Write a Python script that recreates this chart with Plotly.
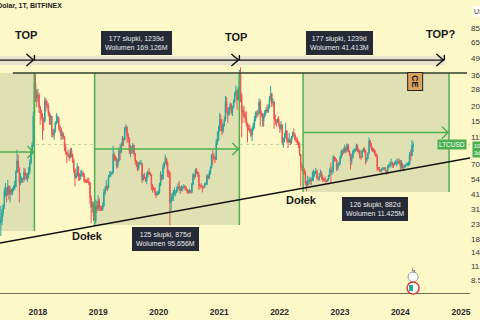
import numpy as np
import pandas as pd
import plotly.graph_objects as go

# ---------------- data (weekly LTCUSD candles) ----------------
start_week = "2017-05-01"
first_open = 15.0
close_2017 = [25, 26, 24, 25, 29, 33, 43, 43, 40, 47, 41, 44, 42, 45, 46, 47, 61, 75, 66, 50, 52, 54, 53, 61, 57, 55, 58, 62, 72, 88, 100, 170, 310, 265, 235]
high_2017 = [27, 32, 27, 33, 31, 34, 46, 50, 46, 53, 48, 47, 45, 46, 48, 52, 63, 92, 84, 66, 60, 56, 55, 66, 65, 60, 60, 67, 77, 93, 105, 185, 375, 365, 275]
low_2017 = [15, 22, 22, 19, 23, 27, 31, 39, 35, 40, 37, 35, 40, 40, 43, 44, 46, 60, 60, 35, 48, 50, 50, 51, 53, 53, 51, 54, 59, 70, 83, 96, 165, 220, 200]
close_2018 = [250, 200, 180, 170, 155, 155, 225, 210, 205, 180, 165, 170, 125, 120, 130, 150, 155, 165, 140, 135, 118, 122, 116, 96, 88, 85, 84, 80, 91, 84, 75, 64, 55, 57, 67, 58, 57, 58, 60, 57, 52, 52, 52, 51, 50, 38, 32, 34, 27, 25, 33, 31, 36]
high_2018 = [280, 260, 205, 190, 180, 165, 240, 235, 225, 215, 185, 175, 170, 135, 135, 155, 180, 172, 168, 145, 138, 130, 126, 118, 103, 88, 92, 86, 95, 95, 86, 78, 65, 61, 72, 68, 60, 63, 64, 62, 60, 54, 53, 55, 55, 51, 40, 36, 35, 28, 37, 36, 40]
low_2018 = [220, 180, 145, 160, 110, 130, 150, 185, 195, 170, 145, 145, 115, 115, 110, 125, 145, 150, 130, 125, 110, 110, 112, 90, 84, 72, 80, 75, 78, 80, 72, 60, 47, 54, 56, 52, 52, 53, 56, 56, 50, 50, 50, 50, 48, 34, 24, 29, 25, 23, 24, 29, 30]
close_2019 = [32, 31, 31, 33, 42, 44, 47, 46, 56, 58, 59, 60, 84, 78, 77, 68, 75, 90, 88, 100, 112, 110, 135, 138, 118, 112, 90, 95, 90, 100, 85, 75, 72, 65, 71, 72, 72, 53, 57, 55, 52, 58, 61, 60, 58, 48, 46, 45, 42, 40, 41, 42]
high_2019 = [38, 33, 33, 35, 45, 47, 53, 48, 58, 62, 62, 62, 99, 87, 82, 80, 78, 96, 102, 105, 118, 115, 140, 146, 142, 125, 115, 100, 98, 104, 100, 86, 76, 74, 73, 75, 76, 72, 59, 60, 56, 61, 63, 66, 61, 59, 49, 46, 46, 43, 43, 44]
low_2019 = [30, 30, 30, 30, 32, 40, 44, 43, 45, 55, 56, 58, 60, 74, 75, 65, 66, 73, 76, 86, 98, 98, 108, 125, 104, 105, 85, 80, 85, 86, 82, 70, 67, 62, 63, 69, 70, 50, 52, 54, 51, 49, 55, 58, 57, 44, 42, 44, 40, 38, 40, 40]
close_2020 = [48, 58, 54, 66, 72, 78, 73, 60, 60, 35, 38, 39, 42, 42, 42, 45, 47, 46, 44, 46, 46, 47, 46, 44, 42, 42, 43, 42, 49, 58, 56, 63, 61, 58, 48, 47, 47, 46, 46, 49, 49, 57, 55, 60, 66, 83, 80, 80, 77, 105, 110, 130]
high_2020 = [50, 62, 59, 70, 74, 84, 80, 75, 64, 62, 41, 42, 44, 46, 44, 47, 50, 52, 47, 48, 47, 49, 48, 47, 45, 44, 45, 44, 50, 60, 59, 65, 66, 62, 61, 49, 50, 48, 47, 50, 51, 59, 58, 63, 68, 85, 91, 86, 82, 112, 128, 142]
low_2020 = [41, 47, 52, 53, 65, 70, 68, 56, 55, 23, 30, 36, 36, 40, 39, 42, 44, 43, 41, 43, 43, 45, 44, 43, 41, 41, 42, 41, 42, 48, 53, 55, 59, 56, 44, 45, 46, 42, 45, 46, 48, 48, 53, 54, 58, 65, 70, 75, 72, 76, 100, 108]
close_2021 = [160, 145, 130, 145, 160, 220, 185, 175, 195, 210, 180, 200, 220, 255, 270, 230, 280, 360, 250, 190, 180, 170, 165, 150, 135, 135, 130, 120, 135, 145, 160, 180, 175, 180, 220, 180, 170, 155, 170, 185, 190, 185, 200, 235, 255, 215, 220, 160, 155, 155, 160, 145]
high_2021 = [180, 175, 160, 150, 168, 245, 240, 200, 200, 218, 215, 205, 230, 265, 298, 275, 290, 395, 413, 260, 205, 205, 185, 185, 150, 145, 145, 135, 140, 150, 170, 185, 188, 190, 235, 230, 188, 180, 178, 190, 200, 210, 210, 245, 295, 260, 235, 225, 175, 160, 165, 170]
low_2021 = [128, 128, 120, 125, 140, 155, 180, 150, 170, 190, 175, 170, 195, 215, 245, 190, 225, 270, 220, 115, 150, 165, 150, 140, 105, 130, 125, 115, 108, 130, 135, 155, 165, 168, 175, 140, 168, 140, 140, 165, 175, 180, 180, 195, 225, 200, 205, 135, 145, 140, 150, 140]
close_2022 = [135, 145, 105, 110, 115, 130, 110, 105, 110, 105, 115, 125, 120, 110, 110, 105, 100, 85, 68, 67, 62, 60, 50, 48, 52, 52, 53, 52, 56, 60, 60, 62, 55, 54, 57, 60, 55, 54, 53, 52, 52, 53, 57, 63, 61, 63, 80, 77, 76, 65, 69, 72]
high_2022 = [150, 155, 145, 115, 125, 150, 130, 115, 125, 112, 118, 128, 135, 125, 115, 115, 108, 105, 85, 72, 70, 66, 63, 52, 57, 54, 56, 55, 62, 64, 62, 66, 64, 56, 60, 64, 62, 58, 55, 56, 53, 54, 58, 66, 73, 68, 83, 82, 80, 78, 72, 74]
low_2022 = [125, 130, 100, 95, 105, 115, 105, 95, 105, 100, 102, 112, 117, 108, 104, 100, 95, 82, 47, 62, 58, 58, 48, 43, 47, 48, 49, 48, 52, 52, 56, 59, 53, 52, 52, 56, 53, 51, 51, 51, 49, 51, 52, 56, 50, 58, 60, 74, 74, 62, 63, 68]
close_2023 = [80, 90, 88, 89, 95, 90, 100, 90, 85, 75, 80, 88, 90, 92, 100, 90, 90, 80, 80, 90, 92, 90, 76, 78, 86, 108, 100, 93, 93, 90, 85, 82, 65, 65, 63, 63, 64, 65, 65, 63, 60, 67, 68, 70, 72, 70, 70, 72, 72, 72, 74, 72]
high_2023 = [83, 92, 92, 95, 101, 97, 103, 102, 92, 86, 84, 92, 94, 95, 103, 101, 94, 92, 82, 92, 95, 96, 92, 80, 88, 115, 110, 104, 96, 95, 92, 86, 84, 67, 67, 64, 66, 67, 67, 67, 63, 69, 71, 74, 78, 74, 72, 74, 76, 78, 78, 78]
low_2023 = [70, 78, 82, 85, 86, 86, 88, 88, 82, 64, 70, 78, 85, 88, 90, 88, 86, 78, 76, 80, 88, 86, 70, 73, 77, 86, 96, 90, 88, 87, 82, 80, 62, 63, 61, 61, 60, 63, 63, 62, 58, 59, 65, 66, 68, 66, 66, 69, 70, 68, 71, 70]
close_2024 = [68, 70, 66, 67, 69, 70, 70, 70, 84, 82, 98, 101]
high_2024 = [76, 76, 72, 69, 70, 72, 73, 74, 88, 92, 110, 106]
low_2024 = [62, 65, 64, 62, 66, 68, 68, 68, 69, 75, 82, 88]

# price-axis labels (log scale)
ytick_vals = [850, 650, 490, 360, 280, 205, 155, 115, 70, 54, 41, 31, 23.5, 18, 14, 11, 8.5]
# time-axis labels
xtick_vals = ["2018-01-01", "2019-01-01", "2020-01-01", "2021-01-01", "2022-01-01", "2023-01-01", "2024-01-01", "2025-01-01"]

# drawings: date ranges (shaded boxes)
box_start = ["2016-12-01", "2018-12-10", "2022-05-23"]
box_end = ["2017-12-11", "2021-05-03", "2024-10-21"]
box_low = [20.8, 23.2, 42.4]
box_high = [373, 373, 373]
# drawings: top date-range arrows
arrow_start = ["2016-06-01", "2017-12-11", "2021-05-03"]
arrow_end = ["2017-12-11", "2021-05-03", "2024-09-23"]
arrow_price = 473
band_low, band_high = 432, 510
# resistance line and rising support line
resist_dates = ["2017-08-03", "2025-02-07"]
resist_price = 373
trend_dates = ["2017-05-17", "2025-02-25"]
trend_prices = [16.7, 79.0]
# text labels
label_text = ["TOP", "TOP", "TOP?", "Dołek", "Dołek"]
label_date = ["2017-10-20", "2021-04-12", "2024-08-28", "2018-10-30", "2022-05-16"]
label_price = [746, 720, 762, 19.0, 36.7]
tip_text = ["177 słupki, 1239d<br>Wolumen 169.126M", "177 słupki, 1239d<br>Wolumen 41.413M",
            "125 słupki, 875d<br>Wolumen 95.656M", "126 słupki, 882d<br>Wolumen 11.425M"]
tip_date = ["2019-08-22", "2023-01-01", "2020-02-14", "2023-07-31"]
tip_price = [645, 645, 18.0, 31.1]

# ---------------- build candles ----------------
close = close_2017 + close_2018 + close_2019 + close_2020 + close_2021 + close_2022 + close_2023 + close_2024
high = high_2017 + high_2018 + high_2019 + high_2020 + high_2021 + high_2022 + high_2023 + high_2024
low = low_2017 + low_2018 + low_2019 + low_2020 + low_2021 + low_2022 + low_2023 + low_2024
dates = pd.date_range(start_week, periods=len(close), freq="7D")
opens = [first_open] + close[:-1]
high = [max(h, o, c) for h, o, c in zip(high, opens, close)]
low = [min(l, o, c) for l, o, c in zip(low, opens, close)]

BG = "#fcf8c8"
BOX = "#e0e1b3"
GREEN = "#4caf50"
FONT = "Liberation Sans"

fig = go.Figure()
fig.add_trace(go.Candlestick(
    x=dates, open=opens, high=high, low=low, close=close,
    increasing=dict(line=dict(color="#26a69a", width=1), fillcolor="#26a69a"),
    decreasing=dict(line=dict(color="#ef5350", width=1), fillcolor="#ef5350"),
    whiskerwidth=0, hoverinfo="skip"))

shapes = []
for s, e, lo, hi in zip(box_start, box_end, box_low, box_high):
    shapes.append(dict(type="rect", xref="x", yref="y", x0=s, x1=e, y0=lo, y1=hi,
                       fillcolor=BOX, line=dict(width=0), layer="below"))
for s, e in zip(arrow_start, arrow_end):
    shapes.append(dict(type="rect", xref="x", yref="y", x0=s, x1=e, y0=band_low, y1=band_high,
                       fillcolor="#e6e4cf", line=dict(width=0), layer="below"))
shapes.append(dict(type="line", xref="paper", yref="y", x0=0, x1=1, y0=close[-1], y1=close[-1],
                   line=dict(color="rgba(90,150,90,0.35)", width=1, dash="dot"), layer="below"))
for s, e, lo, hi in zip(box_start, box_end, box_low, box_high):
    mid = float(np.sqrt(lo * hi))
    for d in (s, e):
        shapes.append(dict(type="line", xref="x", yref="y", x0=d, x1=d, y0=lo, y1=hi,
                           line=dict(color=GREEN, width=1.5)))
    shapes.append(dict(type="line", xref="x", yref="y", x0=s, x1=e, y0=mid, y1=mid,
                       line=dict(color=GREEN, width=1.5)))
    shapes.append(dict(type="path", xref="x", yref="y", xsizemode="pixel", ysizemode="pixel",
                       xanchor=e, yanchor=mid, path="M-7,6 L-1,0 L-7,-6",
                       line=dict(color=GREEN, width=1.5)))
shapes.append(dict(type="line", xref="x", yref="y", x0=resist_dates[0], x1=resist_dates[1],
                   y0=resist_price, y1=resist_price, line=dict(color="#2f3f2c", width=1.5)))
shapes.append(dict(type="line", xref="x", yref="y", x0=arrow_start[0], x1=arrow_end[-1],
                   y0=arrow_price, y1=arrow_price, line=dict(color="#111", width=1.2)))
for e in arrow_end:
    shapes.append(dict(type="path", xref="x", yref="y", xsizemode="pixel", ysizemode="pixel",
                       xanchor=e, yanchor=arrow_price, path="M-8,6 L-1,0 L-8,-6",
                       line=dict(color="#111", width=1.4)))
    shapes.append(dict(type="line", xref="x", yref="y", xsizemode="pixel", ysizemode="pixel",
                       xanchor=e, yanchor=arrow_price, x0=0, x1=0, y0=-5, y1=5,
                       line=dict(color="#111", width=1.4)))
shapes.append(dict(type="line", xref="x", yref="y", x0=trend_dates[0], x1=trend_dates[1],
                   y0=trend_prices[0], y1=trend_prices[1], line=dict(color="#111", width=1.5)))
shapes.append(dict(type="circle", xref="x", yref="paper", xsizemode="pixel", ysizemode="pixel",
                   xanchor=dates[-1], yanchor=0.055, x0=-5, x1=5, y0=-5, y1=5,
                   fillcolor="white", line=dict(color="#9a9a9a", width=1)))
shapes.append(dict(type="circle", xref="x", yref="paper", xsizemode="pixel", ysizemode="pixel",
                   xanchor=dates[-1], yanchor=0.017, x0=-6, x1=6, y0=-6, y1=6,
                   fillcolor="white", line=dict(color="#e53935", width=1.5)))
shapes.append(dict(type="rect", xref="x", yref="paper", xsizemode="pixel", ysizemode="pixel",
                   xanchor=dates[-1], yanchor=0.017, x0=-4, x1=0, y0=-3, y1=3,
                   fillcolor="#26a69a", line=dict(width=0)))

annotations = []
for t, d, p in zip(label_text, label_date, label_price):
    annotations.append(dict(x=d, y=np.log10(p), xref="x", yref="y", text=f"<b>{t}</b>", showarrow=False,
                            font=dict(family=FONT, size=11, color="#1a1a1a")))
for t, d, p in zip(tip_text, tip_date, tip_price):
    annotations.append(dict(x=d, y=np.log10(p), xref="x", yref="y", text=t, showarrow=False,
                            font=dict(family=FONT, size=7, color="#e9e9ec"), bgcolor="#262a36",
                            bordercolor="#262a36", borderpad=3, align="center"))
annotations.append(dict(x=0.136, y=0.978, xref="paper", yref="paper", xanchor="right", yanchor="middle",
                        text="<b>Litecoin / U.S. Dolar, 1T, BITFINEX</b>", showarrow=False,
                        font=dict(family=FONT, size=7, color="#222")))
annotations.append(dict(x="2024-03-30", y=np.log10(322), xref="x", yref="y", text="<b>CE</b>", textangle=90,
                        showarrow=False, font=dict(family=FONT, size=9, color="#222"),
                        bgcolor="#d9a35e", bordercolor="#222", borderwidth=1, borderpad=2))
annotations.append(dict(x="2025-02-07", y=np.log10(close[-1]), xref="x", yref="y", xanchor="right",
                        text="LTCUSD", showarrow=False, font=dict(family=FONT, size=6.5, color="white"),
                        bgcolor=GREEN, borderpad=1))
annotations.append(dict(x=1.004, y=np.log10(close[-1]), xref="paper", yref="y", xanchor="left", yanchor="top",
                        yshift=4, text="101.00<br>3d 12h", showarrow=False,
                        font=dict(family=FONT, size=5.5, color="white"),
                        bgcolor=GREEN, borderpad=1, align="left"))
annotations.append(dict(x=1.004, y=0.98, xref="paper", yref="paper", xanchor="left",
                        text="USD", showarrow=False, font=dict(family=FONT, size=7, color="#333"),
                        bgcolor="white", borderpad=1))
annotations.append(dict(x=dates[-1], y=0.055, xref="x", yref="paper", text="ϟ", showarrow=False,
                        font=dict(family="DejaVu Sans", size=7, color="#555")))

fig.update_layout(
    width=480, height=320, margin=dict(l=0, r=10, t=0, b=27, autoexpand=False),
    paper_bgcolor=BG, plot_bgcolor=BG, showlegend=False,
    shapes=shapes, annotations=annotations,
    xaxis=dict(range=["2017-05-17", "2025-02-25"], rangeslider=dict(visible=False), showgrid=False,
               zeroline=False, tickvals=xtick_vals, tickformat="%Y", ticks="outside", ticklen=11,
               tickcolor="rgba(0,0,0,0)", showline=True, linecolor="#6f6f55", linewidth=1, automargin=False,
               tickfont=dict(family=FONT, size=8.5, color="#2b2b2b", weight="bold")),
    yaxis=dict(type="log", range=[np.log10(6.69), np.log10(1418)], side="right", showgrid=False,
               zeroline=False, tickvals=ytick_vals, ticktext=[f"{v:.2f}" for v in ytick_vals],
               ticks="", showline=False, automargin=False,
               tickfont=dict(family=FONT, size=8, color="#333")),
)
fig.write_html("out.html")
